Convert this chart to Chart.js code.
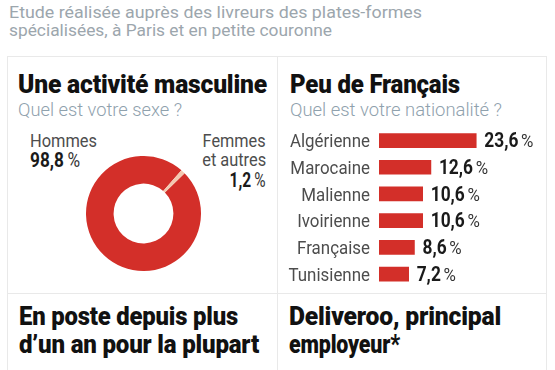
<!DOCTYPE html>
<html><head><meta charset="utf-8">
<script src="https://cdn.jsdelivr.net/npm/chart.js@4/dist/chart.umd.min.js"></script>
<style>
html,body{margin:0;padding:0;background:#fff;width:555px;height:370px;overflow:hidden;font-family:Roboto,"Liberation Sans",sans-serif;}
#root{position:relative;width:555px;height:370px;}
.t{position:absolute;white-space:nowrap;line-height:1;transform-origin:0 0;}
.r{transform-origin:100% 0;}
.ln{position:absolute;background:#e9e9e9;}
.hd{font-size:16.5px;font-weight:400;color:#9ca6ad;}
.ti{font-size:25px;font-weight:900;color:#111;letter-spacing:-0.2px;}
.ti2{font-size:26px;font-weight:900;color:#111;letter-spacing:-0.2px;}
.su{font-size:18px;font-weight:300;color:#8fa1ad;}
.lb{font-size:19px;font-weight:400;color:#4d4d4d;}
.vl{font-size:20px;font-weight:700;color:#1a1a1a;}
.vl span{font-weight:400;color:#333;}
canvas{position:absolute;}
</style></head>
<body><div id="root">
<div class="ln" style="left:7px;top:56px;width:540px;height:1px"></div>
<div class="ln" style="left:7px;top:293px;width:540px;height:1px"></div>
<div class="ln" style="left:7px;top:56px;width:1px;height:314px"></div>
<div class="ln" style="left:277px;top:56px;width:1px;height:314px"></div>
<div class="ln" style="left:546px;top:56px;width:1px;height:314px"></div>

<div class="t hd" style="left:9px;top:5px" data-w="413">Etude réalisée auprès des livreurs des plates-formes</div>
<div class="t hd" style="left:9px;top:23px" data-w="323">spécialisées, à Paris et en petite couronne</div>

<div class="t ti" style="left:18px;top:71.5px" data-w="249">Une activité masculine</div>
<div class="t su" style="left:18px;top:101px" data-w="164">Quel est votre sexe ?</div>
<div class="t ti" style="left:290px;top:71.5px" data-w="170">Peu de Français</div>
<div class="t su" style="left:290px;top:101px" data-w="212">Quel est votre nationalité ?</div>

<div class="t ti2" style="left:19px;top:303px" data-w="219">En poste depuis plus</div>
<div class="t ti2" style="left:19px;top:331px" data-w="240">d’un an pour la plupart</div>
<div class="t ti2" style="left:289px;top:303px" data-w="212">Deliveroo, principal</div>
<div class="t ti2" style="left:289px;top:331px" data-w="111">employeur*</div>

<div id="donutLabels"></div>
<canvas id="donut" width="115" height="115" style="left:86px;top:156px"></canvas>
<canvas id="bars" width="269" height="172" style="left:277px;top:120px"></canvas>
</div>
<script>
// ---- data ----
const sexLabels = [['Hommes'], ['Femmes', 'et autres']];
const sexValues = [98.8, 1.2];
const nationalities = ['Algérienne', 'Marocaine', 'Malienne', 'Ivoirienne', 'Française', 'Tunisienne'];
const nationalityValues = [23.6, 12.6, 10.6, 10.6, 8.6, 7.2];

const RED = '#d32f29';
const PEACH = '#f3c8b0';
const fmt = v => v.toFixed(1).replace('.', ',');

// ---- donut labels (HTML text, built from the data arrays) ----
const dl = document.getElementById('donutLabels');
function addText(html, cls, style, w) {
  const d = document.createElement('div');
  d.className = 't ' + cls;
  d.setAttribute('style', style);
  d.dataset.w = w;
  d.innerHTML = html;
  dl.appendChild(d);
}
addText(sexLabels[0][0], 'lb', 'left:30px;top:131px', 67);
addText(fmt(sexValues[0]) + '<span>\u2009%</span>', 'vl', 'left:30px;top:150.2px', 50);
addText(sexLabels[1][0], 'lb r', 'right:289px;top:131px', 63);
addText(sexLabels[1][1], 'lb r', 'right:289px;top:150px', 64);
addText(fmt(sexValues[1]) + '<span>\u2009%</span>', 'vl r', 'right:289px;top:170.2px', 36);

// fit text widths
document.querySelectorAll('[data-w]').forEach(el => {
  const w = el.getBoundingClientRect().width;
  if (w > 0) el.style.transform = 'scaleX(' + (parseFloat(el.dataset.w) / w) + ')';
});

// ---- donut ----
new Chart(document.getElementById('donut'), {
  type: 'doughnut',
  data: {
    labels: sexLabels.map(l => l.join(' ')),
    datasets: [{ data: sexValues, backgroundColor: [RED, PEACH], borderWidth: 0, hoverOffset: 0, offset: 0 }]
  },
  options: {
    responsive: false, animation: false, cutout: '52%', rotation: 45.6,
    layout: { padding: 0 },
    plugins: { legend: { display: false }, tooltip: { enabled: false } }
  }
});

// ---- bars ----
const K = 0.89;
const barLabels = {
  id: 'barLabels',
  afterDatasetsDraw(chart) {
    const ctx = chart.ctx;
    const meta = chart.getDatasetMeta(0);
    const area = chart.chartArea;
    meta.data.forEach((bar, i) => {
      const y = bar.y + 6.8;
      ctx.save();
      ctx.translate(area.left - 9, y);
      ctx.scale(K, 1);
      ctx.font = '400 19px Roboto';
      ctx.fillStyle = '#4d4d4d';
      ctx.textAlign = 'right';
      ctx.textBaseline = 'alphabetic';
      ctx.fillText(chart.data.labels[i], 0, 0);
      ctx.restore();

      const num = fmt(chart.data.datasets[0].data[i]);
      ctx.save();
      ctx.translate(bar.x + 8, y);
      ctx.scale(K, 1);
      ctx.textAlign = 'left';
      ctx.textBaseline = 'alphabetic';
      ctx.font = '700 19.5px Roboto';
      ctx.fillStyle = '#1a1a1a';
      ctx.fillText(num, 0, 0);
      const w = ctx.measureText(num).width;
      ctx.font = '400 19px Roboto';
      ctx.fillStyle = '#333';
      ctx.fillText('%', w + 3, 0);
      ctx.restore();
    });
  }
};
new Chart(document.getElementById('bars'), {
  type: 'bar',
  data: {
    labels: nationalities,
    datasets: [{ data: nationalityValues, backgroundColor: RED, barThickness: 14, borderWidth: 0 }]
  },
  options: {
    indexAxis: 'y', responsive: false, animation: false,
    layout: { padding: { left: 102, right: 2.2, top: 7.2, bottom: 4.6 } },
    scales: { x: { display: false, min: 0, max: 40 }, y: { display: false } },
    plugins: { legend: { display: false }, tooltip: { enabled: false } }
  },
  plugins: [barLabels]
});
</script>
</body></html>
